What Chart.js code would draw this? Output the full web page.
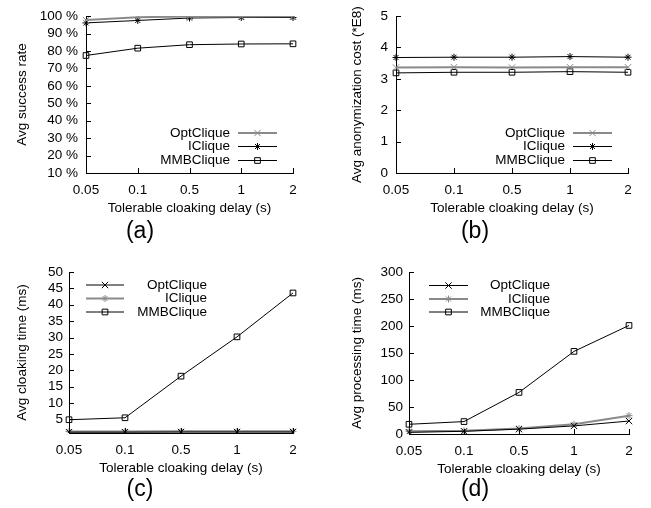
<!DOCTYPE html>
<html>
<head>
<meta charset="utf-8">
<script src="https://cdn.jsdelivr.net/npm/chart.js@4/dist/chart.umd.min.js"></script>
<style>
  html, body { margin: 0; padding: 0; background: #fff; }
  #wrap { position: relative; width: 651px; height: 508px; overflow: hidden; }
  #wrap canvas { position: absolute; }
  .tag { position: absolute; font-family: "Liberation Sans", Arial, sans-serif; font-size: 23px;
         color: #000; transform: translate(-50%, -50%); line-height: 1; }
</style>
</head>
<body>
<div id="wrap">
  <canvas id="pa" width="325" height="254" style="left:0;top:0"></canvas>
  <canvas id="pb" width="326" height="254" style="left:325px;top:0"></canvas>
  <canvas id="pc" width="325" height="254" style="left:0;top:254px"></canvas>
  <canvas id="pd" width="326" height="254" style="left:325px;top:254px"></canvas>
  <div class="tag" style="left:140px;top:230px">(a)</div>
  <div class="tag" style="left:475px;top:230px">(b)</div>
  <div class="tag" style="left:140px;top:488px">(c)</div>
  <div class="tag" style="left:475px;top:488px">(d)</div>
</div>
<script>
// Tolerable cloaking delay (s)
const delays = ['0.05', '0.1', '0.5', '1', '2'];

// (a) average success rate, %
const successOpt  = [97.7, 99.4, 99.7, 99.8, 99.9];
const successI    = [96.1, 97.5, 98.9, 99.2, 99.2];
const successMMB  = [77.4, 81.6, 83.6, 84.0, 84.1];

// (b) average anonymization cost, *E8
const costOpt = [3.36, 3.37, 3.36, 3.37, 3.37];
const costI   = [3.68, 3.69, 3.69, 3.71, 3.69];
const costMMB = [3.19, 3.21, 3.21, 3.23, 3.21];

// (c) average cloaking time, ms
const cloakOpt = [1.1, 1.1, 1.15, 1.15, 1.15];
const cloakI   = [1.3, 1.3, 1.35, 1.35, 1.35];
const cloakMMB = [4.9, 5.5, 18.2, 30.2, 43.6];

// (d) average processing time, ms
const procOpt = [3, 5, 9, 15, 24];
const procI   = [5, 6, 10, 18, 34];
const procMMB = [18, 23, 77, 153, 201];

// y tick values of (c)
const cloakTicks = [5, 10, 15, 20, 25, 30, 35, 40, 45, 50];

const FONT = { family: '"Liberation Sans", Arial, sans-serif', size: 13.5 };
const GRAY = '#8a8a8a';
const BLACK = '#000';

// gnuplot-like inward tick marks on the left and bottom axes
const inwardTicks = {
  id: 'inwardTicks',
  afterDraw(chart) {
    const { ctx, chartArea: a, scales: { x, y } } = chart;
    ctx.save();
    ctx.strokeStyle = '#000';
    ctx.lineWidth = 1;
    ctx.beginPath();
    x.ticks.forEach((t, i) => {
      const px = Math.round(x.getPixelForTick(i)) + 0.5;
      ctx.moveTo(px, a.bottom);
      ctx.lineTo(px, a.bottom - 5);
    });
    y.ticks.forEach((t, i) => {
      const py = Math.round(y.getPixelForTick(i)) + 0.5;
      ctx.moveTo(a.left, py);
      ctx.lineTo(a.left + 5, py);
    });
    ctx.stroke();
    ctx.restore();
  }
};

// key with right-aligned names followed by a line sample and marker
const gnuLegend = {
  id: 'gnuLegend',
  afterDraw(chart, args, o) {
    if (!o || !o.rows) return;
    const ctx = chart.ctx;
    ctx.save();
    ctx.font = FONT.size + 'px ' + FONT.family;
    ctx.textAlign = 'right';
    ctx.textBaseline = 'middle';
    chart.data.datasets.forEach((ds, i) => {
      const yy = o.rows[i];
      ctx.fillStyle = '#000';
      ctx.fillText(ds.label, o.textRight, yy);
      ctx.strokeStyle = ds.borderColor;
      ctx.lineWidth = ds.borderWidth;
      ctx.beginPath();
      ctx.moveTo(o.x1, yy);
      ctx.lineTo(o.x2, yy);
      ctx.stroke();
      ctx.fillStyle = ds.pointBackgroundColor;
      ctx.strokeStyle = ds.pointBorderColor;
      ctx.lineWidth = ds.pointBorderWidth;
      Chart.helpers.drawPoint(ctx, {
        pointStyle: ds.pointStyle, radius: ds.pointRadius, rotation: 0,
        borderWidth: ds.pointBorderWidth
      }, (o.x1 + o.x2) / 2, yy);
    });
    ctx.restore();
  }
};

function series(name, data, color, width, marker, radius) {
  return {
    label: name, data, borderColor: color, borderWidth: width,
    pointStyle: marker, pointRadius: radius, pointHoverRadius: radius,
    pointBorderColor: color, pointBackgroundColor: 'rgba(0,0,0,0)', pointBorderWidth: 1,
    tension: 0, fill: false
  };
}

function panel(id, p) {
  const yScale = {
    type: 'linear', min: p.min, max: p.max,
    grid: { display: false, drawTicks: false },
    border: { display: true, color: '#000', width: 1 },
    ticks: { color: '#000', font: FONT, padding: p.tickPad, stepSize: p.step, autoSkip: false,
             callback: p.fmt || (v => v) },
    title: { display: true, text: p.yTitle, color: '#000', font: FONT, padding: { top: 0, bottom: 0 } },
    afterFit: s => { s.width = p.yw; }
  };
  if (p.ticks) yScale.afterBuildTicks = s => { s.ticks = p.ticks.map(v => ({ value: v })); };
  return new Chart(document.getElementById(id), {
    type: 'line',
    data: { labels: delays, datasets: p.datasets },
    options: {
      responsive: false, animation: false, devicePixelRatio: 1,
      layout: { padding: p.pad },
      plugins: { legend: { display: false }, tooltip: { enabled: false }, gnuLegend: p.legend },
      scales: {
        x: {
          type: 'category', offset: false,
          grid: { display: false, drawTicks: false },
          border: { display: true, color: '#000', width: 1 },
          ticks: { color: '#000', font: FONT, padding: 9, maxRotation: 0, autoSkip: false },
          title: { display: true, text: 'Tolerable cloaking delay (s)', color: '#000', font: FONT,
                   padding: { top: 0, bottom: 0 } },
          afterFit: s => { s.height = 43; }
        },
        y: yScale
      }
    },
    plugins: [inwardTicks, gnuLegend]
  });
}

panel('pa', {
  min: 10, max: 100, step: 10, fmt: v => v + ' %', tickPad: 8,
  yTitle: 'Avg success rate', yw: 72,
  pad: { left: 14, right: 32, top: 12, bottom: 38 },
  legend: { textRight: 230, x1: 238, x2: 277, rows: [133, 146.5, 160.5] },
  datasets: [
    series('OptClique', successOpt, GRAY, 2, 'crossRot', 4.5),
    series('IClique', successI, BLACK, 1, 'star', 3.5),
    series('MMBClique', successMMB, BLACK, 1, 'rect', 4)
  ]
});

panel('pb', {
  min: 0, max: 5, step: 1, tickPad: 8,
  yTitle: 'Avg anonymization cost (*E8)', yw: 47,
  pad: { left: 24, right: 23, top: 12, bottom: 38 },
  legend: { textRight: 240, x1: 248, x2: 287, rows: [133, 146.5, 160.5] },
  datasets: [
    series('OptClique', costOpt, GRAY, 2, 'crossRot', 4.5),
    series('IClique', costI, BLACK, 1, 'star', 3.5),
    series('MMBClique', costMMB, BLACK, 1, 'rect', 4)
  ]
});

panel('pc', {
  min: 0.85, max: 50, ticks: cloakTicks, tickPad: 6,
  yTitle: 'Avg cloaking time (ms)', yw: 55,
  pad: { left: 14, right: 32, top: 18, bottom: 32 },
  legend: { textRight: 207, x1: 86, x2: 124, rows: [31, 44.5, 58] },
  datasets: [
    series('OptClique', cloakOpt, BLACK, 1, 'crossRot', 4.5),
    series('IClique', cloakI, GRAY, 2, 'star', 3.5),
    series('MMBClique', cloakMMB, BLACK, 1, 'rect', 4)
  ]
});

panel('pd', {
  min: 0, max: 300, step: 50, tickPad: 6,
  yTitle: 'Avg processing time (ms)', yw: 60,
  pad: { left: 24, right: 22, top: 18, bottom: 31 },
  legend: { textRight: 225, x1: 104, x2: 143, rows: [31.5, 45, 58] },
  datasets: [
    series('OptClique', procOpt, BLACK, 1, 'crossRot', 4.5),
    series('IClique', procI, GRAY, 2, 'star', 3.5),
    series('MMBClique', procMMB, BLACK, 1, 'rect', 4)
  ]
});
</script>
</body>
</html>
